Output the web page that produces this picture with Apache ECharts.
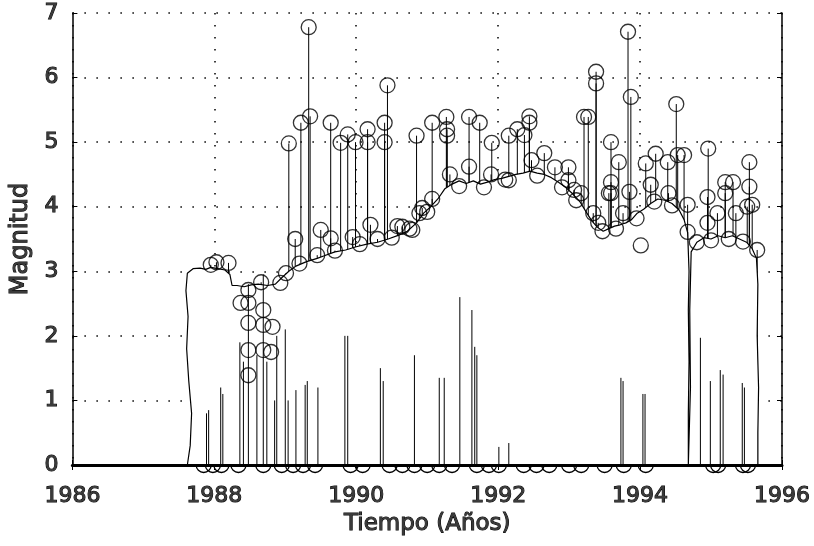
<!DOCTYPE html>
<html>
<head>
<meta charset="utf-8">
<script src="https://cdn.jsdelivr.net/npm/echarts@6/dist/echarts.min.js"></script>
<style>html,body{margin:0;padding:0;background:#fff}#c{width:814px;height:546px}</style>
</head>
<body>
<div id="c"></div>
<script>
// ---- data ----
const xTicks = [1986, 1988, 1990, 1992, 1994, 1996];
const yTicks = [0, 1, 2, 3, 4, 5, 6, 7];

// events drawn as stems with circles (year, magnitude)
const evYear = [1987.95,1988.03,1988.20,1988.37,1988.48,1988.48,1988.48,1988.48,1988.48,1988.66,1988.69,1988.69,1988.69,1988.80,1988.82,1988.93,
  1989.01,1989.05,1989.14,1989.22,1989.33,1989.35,1989.50,1989.64,1989.64,1989.78,1989.88,1989.95,1989.99,1990.16,1990.16,1990.20,1990.30,
  1990.40,1990.40,1990.44,1990.58,1990.65,1990.79,1990.85,1990.89,1990.93,1991.07,1991.07,1991.27,1991.28,1991.28,1991.32,1991.59,1991.59,
  1991.74,1991.90,1991.91,1992.15,1992.15,1992.27,1992.37,1992.44,1992.44,1992.47,1992.65,1992.80,1992.99,1992.99,1993.07,1993.17,
  1993.21,1993.27,1993.34,1993.38,1993.38,1993.41,1993.56,1993.59,1993.59,1993.59,1993.70,1993.76,1993.83,1993.85,1993.87,1994.01,
  1994.08,1994.15,1994.22,1994.39,1994.40,1994.51,1994.53,1994.62,1994.67,1994.67,1994.95,1994.95,1994.96,1995.09,1995.20,1995.20,
  1995.31,1995.35,1995.51,1995.54,1995.54,1995.58,1995.65,
  1989.20,1989.45,1989.70,1990.05,1990.50,1990.75,1991.00,1991.45,1991.80,1992.10,1992.55,1992.90,1993.10,1993.47,1993.66,1993.95,
  1994.20,1994.45,1994.80,1995.00,1995.25,1995.45];
const evMag = [3.10,3.14,3.13,2.51,2.71,2.51,2.20,1.78,1.39,2.83,2.40,2.17,1.78,1.75,2.14,2.82,
  2.97,4.98,3.50,5.30,6.78,5.40,3.64,5.30,3.51,4.99,5.12,3.53,5.00,5.20,5.00,3.72,3.50,
  5.30,5.00,5.88,3.70,3.69,3.64,5.10,3.90,3.98,5.30,4.12,5.39,5.20,5.10,4.50,5.39,4.62,
  5.30,4.50,4.99,5.10,4.41,5.20,5.11,5.40,5.30,4.72,4.83,4.61,4.61,4.41,4.26,4.21,
  5.39,5.39,3.90,6.09,5.91,3.75,4.21,5.00,4.38,4.21,4.69,3.90,6.71,4.23,5.70,3.40,
  4.67,4.34,4.82,4.69,4.21,5.59,4.80,4.80,4.03,3.61,4.15,3.75,4.90,3.90,4.21,4.38,
  4.38,3.90,4.00,4.69,4.31,4.03,3.33,
  3.12,3.25,3.32,3.42,3.52,3.66,3.92,4.32,4.30,4.42,4.48,4.30,4.10,3.62,3.66,3.82,
  4.08,4.02,3.45,3.48,3.50,3.46];

// events with magnitude 0 (circles on the base line)
const zeroYear = [1987.85,1987.98,1988.10,1988.34,1988.69,1988.95,1989.11,1989.25,1989.42,1989.92,1990.09,1990.47,1990.65,
  1990.82,1991.00,1991.17,1991.35,1991.70,1991.87,1992.01,1992.36,1992.54,1992.72,1993.00,1993.17,1993.50,1993.77,1994.08,
  1995.03,1995.10,1995.45,1995.52];

// top outline of the dense mass of stems
const envYear = [1987.62,1987.66,1987.68,1987.64,1987.61,1987.63,1987.60,1987.62,1987.70,1987.80,1987.88,1987.95,1988.05,1988.15,1988.22,1988.25,
  1988.32,1988.42,1988.52,1988.62,1988.75,1988.86,
  1988.95,1989.05,1989.15,1989.30,1989.45,1989.55,1989.70,1989.85,1990.00,1990.15,1990.30,1990.45,1990.60,1990.72,1990.85,1990.95,
  1991.05,1991.15,1991.25,1991.35,1991.45,1991.55,1991.65,1991.75,1991.85,1991.95,1992.05,1992.15,1992.25,1992.35,1992.45,1992.55,
  1992.65,1992.75,1992.85,1992.95,1993.05,1993.15,1993.25,1993.32,1993.40,1993.48,1993.56,1993.64,1993.72,1993.80,1993.88,1993.96,
  1994.05,1994.15,1994.25,1994.35,1994.45,1994.55,1994.62,1994.67,
  1994.69,1994.68,1994.69,1994.68,1994.68,
  1994.70,1994.71,1994.70,1994.72,1994.80,1994.90,1995.00,1995.10,1995.20,1995.30,1995.40,1995.50,1995.58,1995.64,1995.66,1995.65,1995.67,1995.66,1995.66];
const envMag = [0,0.3,0.8,1.3,1.8,2.3,2.7,2.97,3.04,3.05,3.03,3.06,3.04,3.02,2.95,2.78,
  2.78,2.76,2.79,2.80,2.78,2.80,
  2.90,3.00,3.08,3.15,3.20,3.24,3.30,3.33,3.38,3.42,3.45,3.50,3.56,3.62,3.75,3.90,
  4.00,4.12,4.28,4.35,4.40,4.36,4.40,4.35,4.38,4.42,4.44,4.47,4.50,4.52,4.55,4.52,
  4.50,4.45,4.38,4.30,4.20,4.08,3.90,3.78,3.68,3.62,3.66,3.70,3.72,3.75,3.80,3.90,
  3.96,4.05,4.12,4.10,4.05,3.95,3.80,3.60,
  3.0,2.4,1.6,0.8,0,
  0,1.2,2.4,3.3,3.45,3.52,3.50,3.55,3.52,3.55,3.50,3.45,3.35,3.20,2.80,2.00,1.20,0.50,0];

// edges of the narrow empty gaps inside the mass (year, height)
const gapYear = [1987.89,1987.92,1988.09,1988.12,1988.36,1988.41,1988.48,1988.60,1988.69,1988.74,1988.85,1988.88,
  1989.00,1989.04,1989.15,1989.28,1989.31,1989.46,1989.84,1989.88,1990.34,1990.38,1990.82,1991.17,1991.24,1991.46,
  1991.63,1991.67,1991.70,1992.01,1992.15,1993.73,1993.76,1994.04,1994.07,1994.85,1994.99,1995.13,1995.17,1995.44,1995.47];
const gapMag = [0.80,0.85,1.20,1.10,1.90,1.60,2.80,1.70,2.95,1.60,1.00,2.00,
  2.10,1.00,1.16,1.24,1.30,1.20,2.00,2.00,1.50,1.30,1.70,1.35,1.35,2.60,
  2.40,1.83,1.70,0.28,0.34,1.35,1.30,1.10,1.10,1.97,1.30,1.47,1.40,1.27,1.20];

// ---- build ----
const zip = (a, b) => a.map((v, i) => [v, b[i]]);
const evData = zip(evYear, evMag);
const zeroData = zeroYear.map(v => [v, 0]);
const envData = zip(envYear, envMag);
const gapData = zip(gapYear, gapMag);

const FONT = 'DejaVu Sans';
const txt = { color: '#3a3a3a', textBorderColor: '#000', textBorderWidth: 1, fontFamily: FONT, fontSize: 22 };
const dotted = { color: '#000', width: 1.5, type: [1.5, 10.5] };

function stemRender(params, api) {
  const x = api.value(0), y = api.value(1);
  const p0 = api.coord([x, 0]);
  const p1 = api.coord([x, y]);
  return { type: 'line', shape: { x1: p0[0], y1: p0[1], x2: p1[0], y2: p1[1] },
           style: { stroke: '#000', lineWidth: 1 } };
}
// circle on the base line: only the lower half shows below the mass
function halfCircleRender(params, api) {
  const p = api.coord([api.value(0), api.value(1)]);
  return { type: 'arc', shape: { cx: p[0], cy: p[1], r: 7.5, startAngle: 0, endAngle: Math.PI, clockwise: true },
           style: { stroke: '#000', fill: null, lineWidth: 1.3 } };
}

const chart = echarts.init(document.getElementById('c'), null, { renderer: 'canvas' });
chart.setOption({
  backgroundColor: '#fff',
  animation: false,
  grid: { left: 68, right: 32, top: 13, bottom: 81 },
  xAxis: [{
    type: 'value', min: xTicks[0], max: xTicks[xTicks.length - 1], interval: 2,
    name: 'Tiempo (Años)', nameLocation: 'middle', nameGap: 44,
    nameTextStyle: Object.assign({}, txt, { fontSize: 23 }),
    axisLine: { show: true, lineStyle: { color: '#000', width: 1.5 } },
    axisTick: { show: true, inside: true, length: 5, lineStyle: { color: '#000' } },
    axisLabel: Object.assign({ margin: 20, formatter: v => String(v) }, txt),
    splitLine: { show: true, lineStyle: dotted }
  }, {
    type: 'value', position: 'top', min: xTicks[0], max: xTicks[xTicks.length - 1], interval: 2,
    axisLine: { show: true, lineStyle: { color: '#000', width: 3 } },
    axisTick: { show: true, inside: true, length: 5, lineStyle: { color: '#000' } },
    axisLabel: { show: false }, splitLine: { show: false }
  }],
  yAxis: [{
    type: 'value', min: yTicks[0], max: yTicks[yTicks.length - 1], interval: 1,
    name: 'Magnitud', nameLocation: 'middle', nameGap: 32,
    nameTextStyle: Object.assign({}, txt, { fontSize: 24 }),
    axisLine: { show: true, lineStyle: { color: '#000', width: 1.5 } },
    axisTick: { show: true, inside: true, length: 5, lineStyle: { color: '#000' } },
    axisLabel: Object.assign({ margin: 14 }, txt),
    splitLine: { show: true, lineStyle: dotted }
  }, {
    type: 'value', position: 'right', min: yTicks[0], max: yTicks[yTicks.length - 1], interval: 1,
    axisLine: { show: true, lineStyle: { color: '#000', width: 1.5 } },
    axisTick: { show: true, inside: true, length: 5, lineStyle: { color: '#000' } },
    axisLabel: { show: false }, splitLine: { show: false }
  }],
  series: [
    { type: 'custom', name: 'stems', renderItem: stemRender, data: evData, z: 2, encode: { x: 0, y: 1 }, silent: true },
    { type: 'line', name: 'mass', data: envData, showSymbol: false, z: 3, silent: true,
      lineStyle: { color: '#000', width: 1.2 }, areaStyle: { color: '#fff', opacity: 1 } },
    { type: 'custom', name: 'gaps', renderItem: stemRender, data: gapData, z: 4, encode: { x: 0, y: 1 }, silent: true },
    { type: 'custom', name: 'zero', renderItem: halfCircleRender, data: zeroData, z: 4, encode: { x: 0, y: 1 }, silent: true, clip: false },
    { type: 'scatter', name: 'events', data: evData, symbol: 'circle', symbolSize: 15, z: 5, silent: true,
      itemStyle: { color: 'rgba(0,0,0,0)', borderColor: '#000', borderWidth: 1.3 },
      markLine: { silent: true, symbol: 'none', label: { show: false },
        lineStyle: { color: '#000', width: 2, type: 'solid' }, data: [{ yAxis: 0 }] } }
  ]
});
</script>
</body>
</html>
